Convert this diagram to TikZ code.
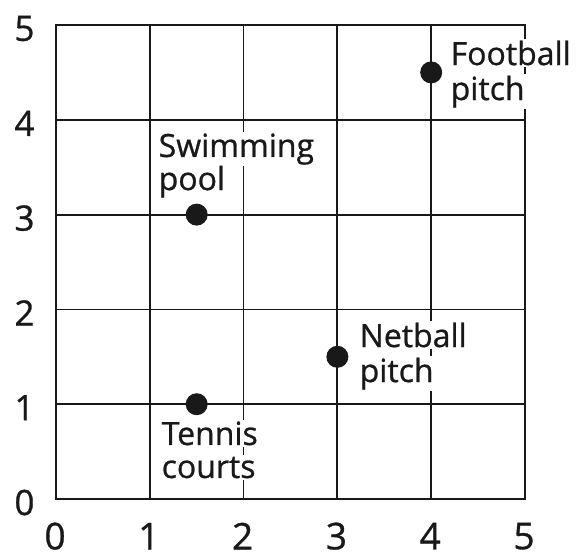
\documentclass[tikz,border=0pt]{standalone}
\usepackage{fontspec}
\setmainfont{Open Sans}[FakeBold=0.8]
\begin{document}
\begin{tikzpicture}[x=93.8pt,y=94.8pt,
  gridline/.style={line width=1.8pt,black!90},
  dot/.style={circle,fill=black!90,minimum size=22pt,inner sep=0pt},
  lbl/.style={anchor=base west,fill=white,inner sep=1.5pt,font=\fontsize{32}{34}\selectfont,text=black!90},
  ylab/.style={font=\fontsize{35}{38}\selectfont,text=black!90,inner sep=0pt},
  xlab/.style={font=\fontsize{37}{39}\selectfont,text=black!90,inner sep=0pt}]
\useasboundingbox[fill=white] (-0.597,-0.591) rectangle (5.576,5.264);
% grid
\foreach \i in {0,...,5}{
  \draw[gridline] (\i,0) -- (\i,5);
  \draw[gridline] (0,\i) -- (5,\i);
}
\draw[gridline,line cap=rect] (0,0) rectangle (5,5);
% axis numbers
\foreach \i in {0,...,5}{
  \node[ylab] (y\i) at (-0.336,\i-0.037) {\i};
  \node[xlab] (x\i) at (\i-0.01,-0.392) {\i};
}
% labels
\node[lbl] (swimA) at (1.077,3.608) {Swimming};
\node[lbl] (swimB) at (1.077,3.259) {pool};
\node[lbl] (footA) at (4.190,4.578) {Football};
\node[lbl] (footB) at (4.190,4.209) {pitch};
\node[lbl] (netA) at (3.220,1.603) {Netball};
\node[lbl] (netB) at (3.220,1.234) {pitch};
\node[lbl] (tenA) at (1.109,0.570) {Tennis};
\node[lbl] (tenB) at (1.109,0.222) {courts};
% dots
\node[dot] (swim) at (1.5,3) {};
\node[dot] (foot) at (4,4.5) {};
\node[dot] (net) at (3,1.5) {};
\node[dot] (ten) at (1.5,1) {};
\end{tikzpicture}
\end{document}
